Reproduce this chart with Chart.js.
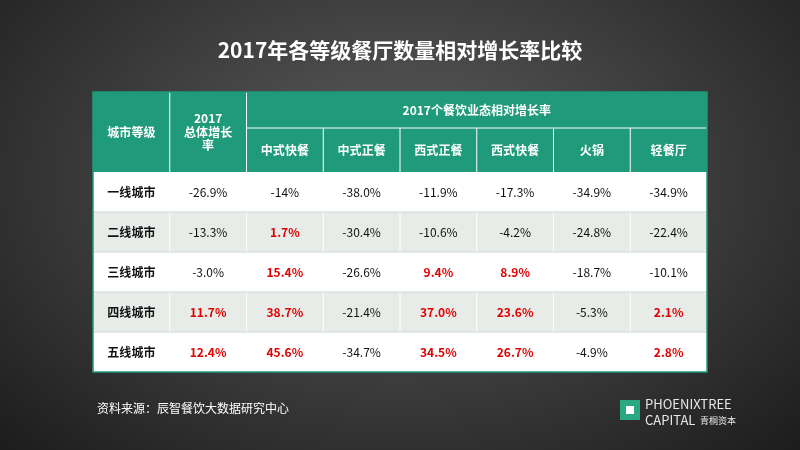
<!DOCTYPE html>
<html><head><meta charset="utf-8">
<script src="https://cdn.jsdelivr.net/npm/chart.js@4"></script>
<style>
html,body{margin:0;width:800px;height:450px;overflow:hidden;
background:radial-gradient(ellipse at 50% 40%,#5e5e5e 0%,#3a3a3a 55%,#1c1c1c 100%);}
canvas{display:block}
</style></head><body>
<canvas id="c" width="800" height="450"></canvas>
<script>
// table data
const cities = ["一线城市", "二线城市", "三线城市", "四线城市", "五线城市"];
const formats = ["中式快餐", "中式正餐", "西式正餐", "西式快餐", "火锅", "轻餐厅"];
const totalGrowth = [-26.9, -13.3, -3.0, 11.7, 12.4];
const formatGrowth = [
  [-14, -38.0, -11.9, -17.3, -34.9, -34.9],
  [1.7, -30.4, -10.6, -4.2, -24.8, -22.4],
  [15.4, -26.6, 9.4, 8.9, -18.7, -10.1],
  [38.7, -21.4, 37.0, 23.6, -5.3, 2.1],
  [45.6, -34.7, 34.5, 26.7, -4.9, 2.8]
];
const fmt = v => (v === -14 ? "-14" : v.toFixed(1)) + "%";

const FONT = '"Noto Sans CJK SC", sans-serif';
const GREEN = "#1f9a7a";

const tablePlugin = {
  id: "table",
  afterDraw(chart) {
    const ctx = chart.ctx, xs = chart.scales.x, ys = chart.scales.y;
    const X = v => xs.getPixelForValue(v), Y = v => ys.getPixelForValue(v);
    const cell = (c0, c1, r0, r1, fill) => {
      ctx.fillStyle = fill;
      ctx.fillRect(X(c0), Y(r0), X(c1) - X(c0), Y(r1) - Y(r0));
    };
    const text = (s, c0, c1, r0, r1, color, bold, size) => {
      ctx.fillStyle = color;
      ctx.font = (bold ? "bold " : "") + size + "px " + FONT;
      ctx.textAlign = "center"; ctx.textBaseline = "middle";
      const lines = s.split("\n"), lh = size * 1.15;
      const cx = (X(c0) + X(c1)) / 2, cy = (Y(r0) + Y(r1)) / 2;
      lines.forEach((l, i) => ctx.fillText(l, cx, cy + (i - (lines.length - 1) / 2) * lh));
    };
    ctx.save();
    // header
    cell(0, 8, 0, 2, GREEN);
    // data rows
    cities.forEach((c, i) => {
      const r = 2 + i;
      cell(0, 8, r, r + 1, i % 2 ? "#e8ece8" : "#ffffff");
      text(c, 0, 1, r, r + 1, "#111", true, 12);
      const tv = totalGrowth[i];
      text(fmt(tv), 1, 2, r, r + 1, tv > 0 ? "#e00000" : "#111", tv > 0, 12);
      formatGrowth[i].forEach((v, j) => {
        text(fmt(v), 2 + j, 3 + j, r, r + 1, v > 0 ? "#e00000" : "#111", v > 0, 12);
      });
    });
    // grid lines
    ctx.strokeStyle = "#ffffff"; ctx.lineWidth = 1;
    const line = (x0, y0, x1, y1) => { ctx.beginPath(); ctx.moveTo(x0, y0); ctx.lineTo(x1, y1); ctx.stroke(); };
    line(X(1), Y(0), X(1), Y(7));
    line(X(2), Y(0), X(2), Y(7));
    line(X(2), Y(0.9), X(8), Y(0.9));
    for (let j = 3; j < 8; j++) line(X(j), Y(0.9), X(j), Y(7));
    ctx.strokeStyle = "#cfd6cf";
    for (let r = 3; r < 7; r++) line(X(0), Y(r), X(8), Y(r));
    ctx.strokeStyle = GREEN; ctx.lineWidth = 1.5;
    ctx.strokeRect(X(0), Y(0), X(8) - X(0), Y(7) - Y(0));
    // header text
    text("城市等级", 0, 1, 0, 2, "#fff", true, 12);
    text("2017\n总体增长\n率", 1, 2, 0, 2, "#fff", true, 12);
    text("2017个餐饮业态相对增长率", 2, 8, 0, 0.9, "#fff", true, 12);
    formats.forEach((f, j) => text(f, 2 + j, 3 + j, 0.9, 2, "#fff", true, 12));
    // title and notes
    ctx.fillStyle = "#fff"; ctx.textAlign = "center"; ctx.textBaseline = "middle";
    ctx.font = "bold 21px " + FONT;
    ctx.fillText("2017年各等级餐厅数量相对增长率比较", 400, 50);
    ctx.textAlign = "left"; ctx.font = "12px " + FONT;
    ctx.fillText("资料来源：辰智餐饮大数据研究中心", 97, 408);
    // logo
    ctx.fillStyle = "#2aa882"; ctx.fillRect(620, 400, 20, 20);
    ctx.fillStyle = "#fff"; ctx.fillRect(626, 406, 8, 8);
    ctx.fillStyle = "#e8e8e8"; ctx.font = "13px " + FONT;
    ctx.fillText("PHOENIXTREE", 645, 404);
    ctx.fillText("CAPITAL", 645, 420);
    ctx.font = "9px " + FONT; ctx.fillText("青桐资本", 700, 421);
    ctx.restore();
  }
};

new Chart(document.getElementById("c"), {
  type: "scatter",
  data: { datasets: [{ data: [] }] },
  options: {
    responsive: false, animation: false,
    layout: { padding: { left: 93, right: 93, top: 92, bottom: 78 } },
    plugins: { legend: { display: false }, tooltip: { enabled: false } },
    scales: {
      x: { type: "linear", min: 0, max: 8, display: false },
      y: { type: "linear", min: 0, max: 7, reverse: true, display: false }
    }
  },
  plugins: [tablePlugin]
});
</script>
</body></html>
